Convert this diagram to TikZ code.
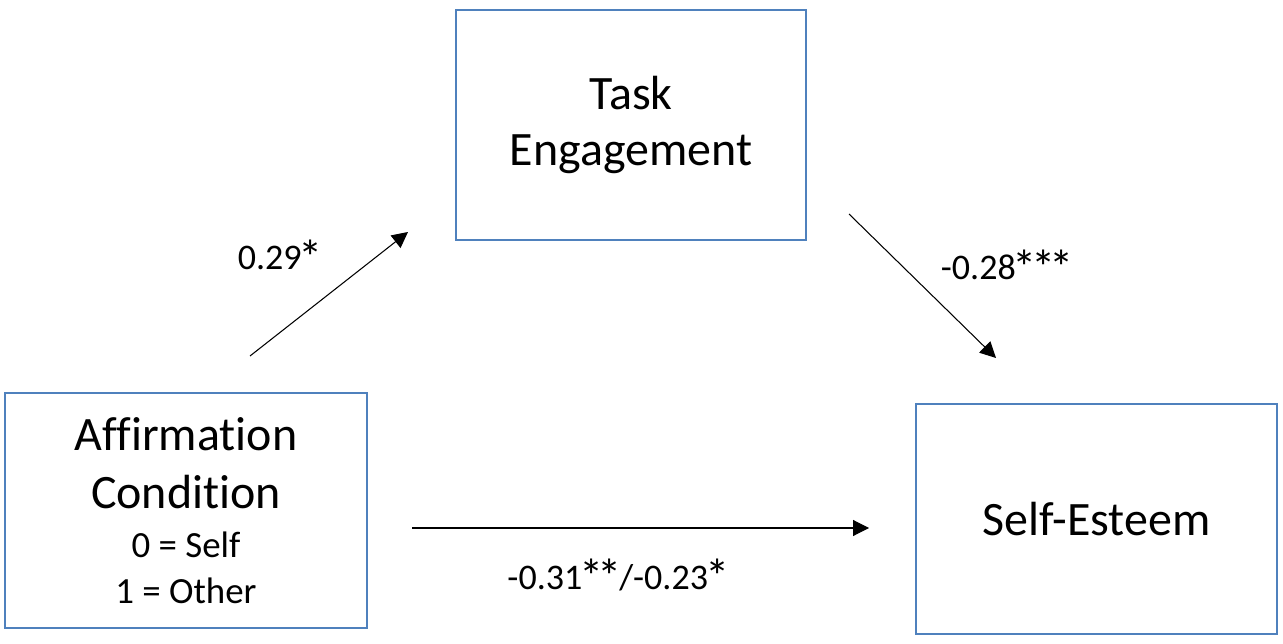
\documentclass[tikz,border=0pt]{standalone}
\usepackage{fontspec}
\usepackage{graphicx}
\setmainfont{Carlito}[Ligatures=NoCommon]
\usetikzlibrary{arrows.meta}
\definecolor{boxblue}{RGB}{79,129,189}
\newcommand\smallsz{\fontsize{21}{26}\selectfont}
\newcommand\sig{\kern-0.08em\raisebox{-0.25ex}{\scalebox{1.35}{*}}\kern-0.08em}

\begin{document}
\begin{tikzpicture}
    [x=0.02cm, y=-0.02cm, >={Triangle[length=9pt,width=9pt]},
     varbox/.style={draw=boxblue, line width=1.2pt, align=center, inner sep=0pt,
                    font=\fontsize{27.3}{33}\selectfont},
     effect/.style={->, line width=0.6pt},
     coef/.style={anchor=base, inner sep=0pt, font=\fontsize{20.5}{25}\selectfont}]
  \useasboundingbox (0,0) rectangle (1283,644);

  % the three variables
  \node[varbox, minimum width=7.24cm, minimum height=4.7cm] (X) at (186,510.5)
    {Affirmation\\Condition\\[-5pt]\smallsz 0 = Self\\[-7pt]\smallsz 1 = Other};
  \node[varbox, minimum width=7cm, minimum height=4.6cm] (M) at (631,125)
    {\raisebox{-4.5pt}{Task}\\[-1pt]\raisebox{-4.5pt}{Engagement}};
  \node[varbox, minimum width=7.22cm, minimum height=4.6cm] (Y) at (1096.5,519)
    {Self-Esteem};

  % free arrow ends
  \coordinate (a1) at (250,356);
  \coordinate (a2) at (408,232);
  \coordinate (b1) at (849,214);
  \coordinate (b2) at (996,358);
  \coordinate (c1) at (412,528);
  \coordinate (c2) at (869,528);

  \draw[effect] (a1) -- (a2);
  \draw[effect] (b1) -- (b2);
  \draw[effect] (c1) -- (c2);

  \node[coef] (la) at (279,270) {0.29\sig};
  \node[coef] (lb) at (1006,280) {-0.28\sig\sig\sig};
  \node[coef] (lc) at (617,589) {-0.31\sig\sig/-0.23\sig};
\end{tikzpicture}
\end{document}
